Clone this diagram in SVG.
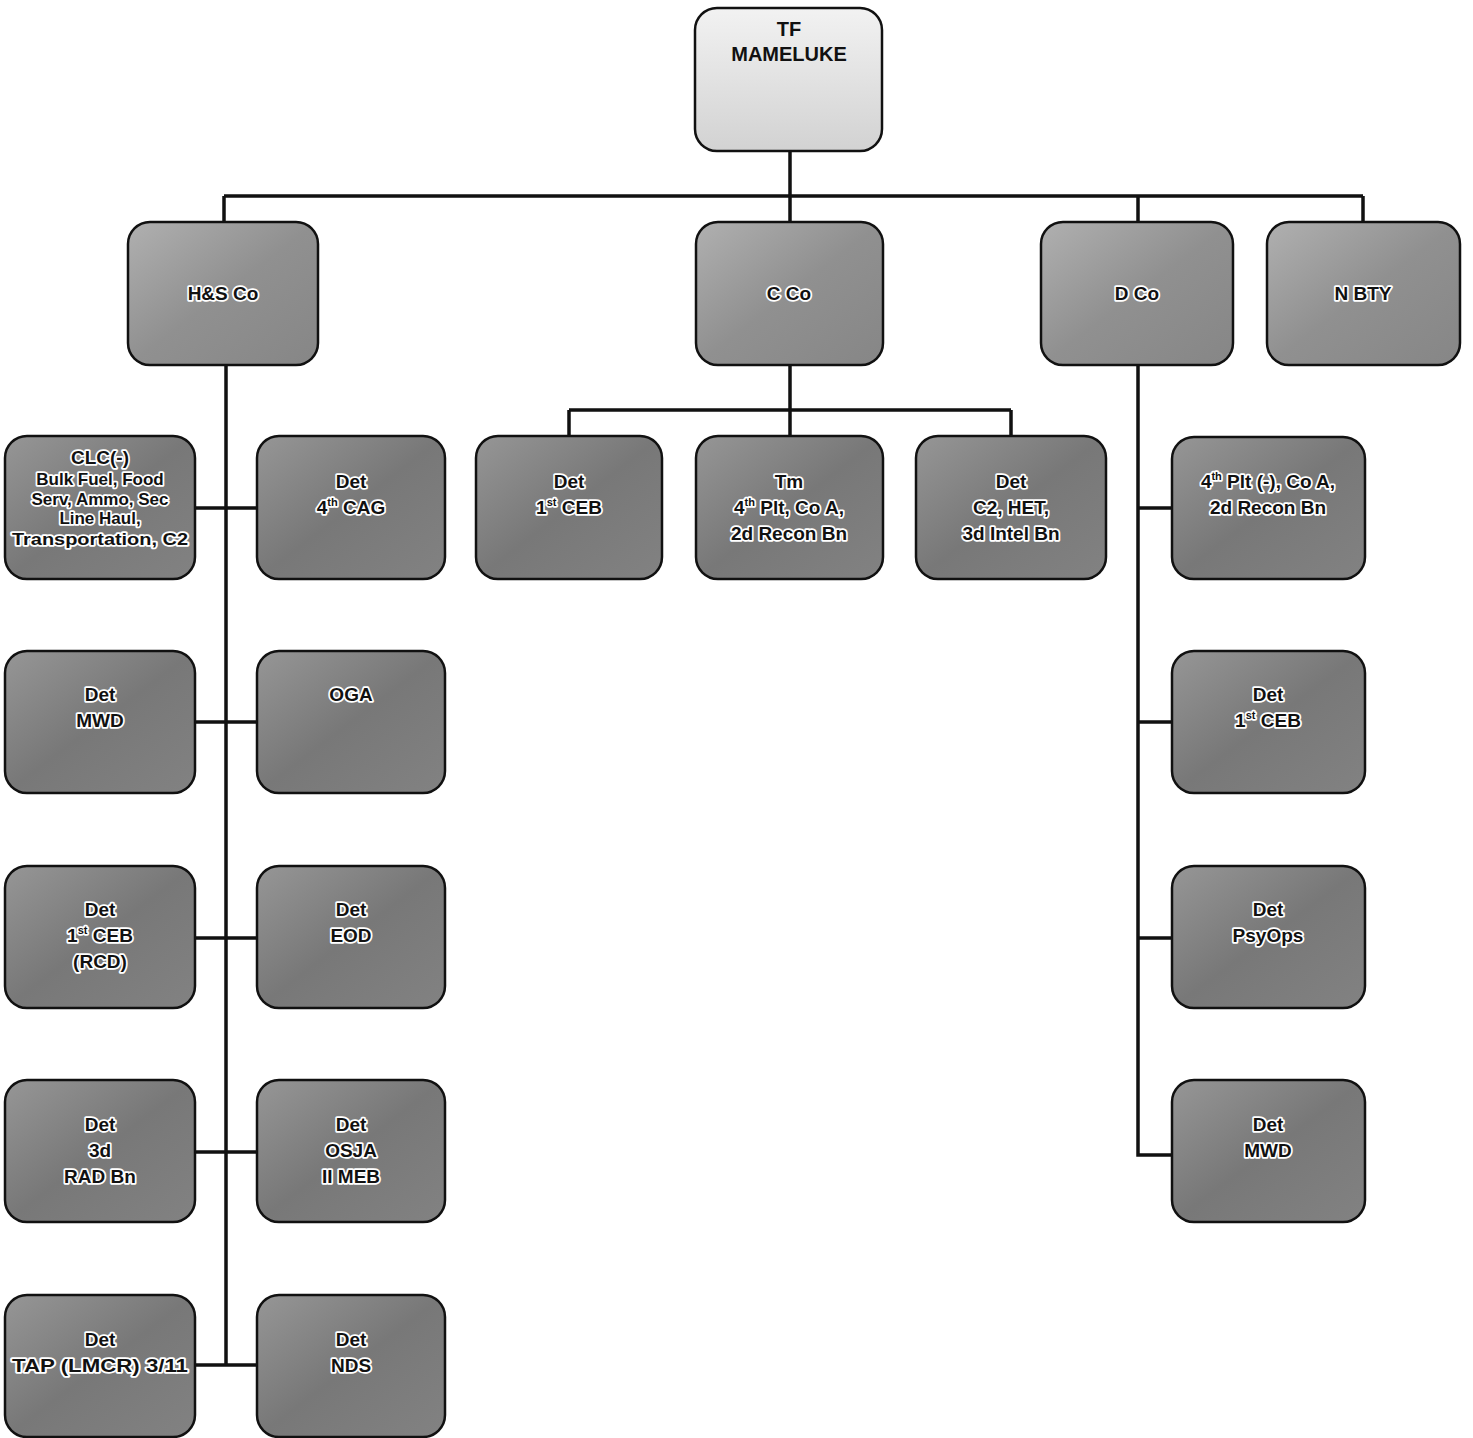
<svg xmlns="http://www.w3.org/2000/svg" width="1473" height="1438" viewBox="0 0 1473 1438">
<style>
.box{stroke:#111;stroke-width:2.5}
.top{fill:url(#gTop)}
.l2{fill:url(#gL2)}
.ch{fill:url(#gCh)}
.t{font-family:"Liberation Sans",Arial,sans-serif;font-weight:bold;font-size:19px;fill:#111;text-anchor:middle;stroke:#fff;stroke-width:3.5px;paint-order:stroke;stroke-linejoin:round}
.ts{font-size:17px}
.tt{font-family:"Liberation Sans",Arial,sans-serif;font-weight:bold;font-size:20px;fill:#111;text-anchor:middle}
.sup{font-size:11px}
.c{fill:none;stroke:#111;stroke-width:3.5}
</style>
<defs>
<linearGradient id="gTop" x1="0" y1="0" x2="0" y2="1"><stop offset="0" stop-color="#f2f2f2"/><stop offset="1" stop-color="#d2d2d2"/></linearGradient>
<linearGradient id="gL2" x1="0" y1="0" x2="1" y2="1"><stop offset="0" stop-color="#b0b0b0"/><stop offset="0.5" stop-color="#909090"/><stop offset="1" stop-color="#868686"/></linearGradient>
<linearGradient id="gCh" x1="0" y1="0" x2="1" y2="1"><stop offset="0" stop-color="#969696"/><stop offset="0.5" stop-color="#787878"/><stop offset="1" stop-color="#828282"/></linearGradient>
</defs>
<rect width="1473" height="1438" fill="#fff"/>
<g id="connectors">
<path class="c" d="M790 151V196M224 196H1363M224 196V222M790 196V222M1138 196V222M1363 196V222"/>
<path class="c" d="M226 365V1365M195 508H257M195 722H257M195 938H257M195 1152H257M195 1365H257"/>
<path class="c" d="M790 365V410M569 410H1011M569 410V436M790 410V436M1011 410V436"/>
<path class="c" d="M1138 365V1155H1172M1138 508H1172M1138 722H1172M1138 938H1172"/>
</g>
<g id="n-tf"><rect class="box top" x="695" y="8" width="187" height="143" rx="22"/><text class="tt" x="789" y="36">TF</text><text class="tt" x="789" y="61">MAMELUKE</text></g>
<g id="n-hs"><rect class="box l2" x="128" y="222" width="190" height="143" rx="22"/><text class="t" x="223" y="300">H&amp;S Co</text></g>
<g id="n-c"><rect class="box l2" x="696" y="222" width="187" height="143" rx="22"/><text class="t" x="789" y="300">C Co</text></g>
<g id="n-d"><rect class="box l2" x="1041" y="222" width="192" height="143" rx="22"/><text class="t" x="1137" y="300">D Co</text></g>
<g id="n-n"><rect class="box l2" x="1267" y="222" width="193" height="143" rx="22"/><text class="t" x="1363" y="300">N BTY</text></g>
<g id="n-clc"><rect class="box ch" x="5" y="436" width="190" height="143" rx="22"/><text class="t" x="100" y="464">CLC(-)</text><text class="t ts" x="100" y="485">Bulk Fuel, Food</text><text class="t ts" x="100" y="505">Serv, Ammo, Sec</text><text class="t ts" x="100" y="524">Line Haul,</text><text class="t ts" x="100" y="545" textLength="176" lengthAdjust="spacingAndGlyphs">Transportation, C2</text></g>
<g id="n-cag"><rect class="box ch" x="257" y="436" width="188" height="143" rx="22"/><text class="t" x="351" y="488">Det</text><text class="t" x="351" y="514">4<tspan class="sup" dy="-8">th</tspan><tspan dy="8"> CAG</tspan></text></g>
<g id="n-mwd1"><rect class="box ch" x="5" y="651" width="190" height="142" rx="22"/><text class="t" x="100" y="701">Det</text><text class="t" x="100" y="727">MWD</text></g>
<g id="n-oga"><rect class="box ch" x="257" y="651" width="188" height="142" rx="22"/><text class="t" x="351" y="701">OGA</text></g>
<g id="n-ceb1"><rect class="box ch" x="5" y="866" width="190" height="142" rx="22"/><text class="t" x="100" y="916">Det</text><text class="t" x="100" y="942">1<tspan class="sup" dy="-8">st</tspan><tspan dy="8"> CEB</tspan></text><text class="t" x="100" y="968">(RCD)</text></g>
<g id="n-eod"><rect class="box ch" x="257" y="866" width="188" height="142" rx="22"/><text class="t" x="351" y="916">Det</text><text class="t" x="351" y="942">EOD</text></g>
<g id="n-rad"><rect class="box ch" x="5" y="1080" width="190" height="142" rx="22"/><text class="t" x="100" y="1131">Det</text><text class="t" x="100" y="1157">3d</text><text class="t" x="100" y="1183">RAD Bn</text></g>
<g id="n-osja"><rect class="box ch" x="257" y="1080" width="188" height="142" rx="22"/><text class="t" x="351" y="1131">Det</text><text class="t" x="351" y="1157">OSJA</text><text class="t" x="351" y="1183">II MEB</text></g>
<g id="n-tap"><rect class="box ch" x="5" y="1295" width="190" height="142" rx="22"/><text class="t" x="100" y="1346">Det</text><text class="t" x="100" y="1372" textLength="176" lengthAdjust="spacingAndGlyphs">TAP (LMCR) 3/11</text></g>
<g id="n-nds"><rect class="box ch" x="257" y="1295" width="188" height="142" rx="22"/><text class="t" x="351" y="1346">Det</text><text class="t" x="351" y="1372">NDS</text></g>
<g id="n-ceb2"><rect class="box ch" x="476" y="436" width="186" height="143" rx="22"/><text class="t" x="569" y="488">Det</text><text class="t" x="569" y="514">1<tspan class="sup" dy="-8">st</tspan><tspan dy="8"> CEB</tspan></text></g>
<g id="n-tm"><rect class="box ch" x="696" y="436" width="187" height="143" rx="22"/><text class="t" x="789" y="488">Tm</text><text class="t" x="789" y="514">4<tspan class="sup" dy="-8">th</tspan><tspan dy="8"> Plt, Co A,</tspan></text><text class="t" x="789" y="540">2d Recon Bn</text></g>
<g id="n-het"><rect class="box ch" x="916" y="436" width="190" height="143" rx="22"/><text class="t" x="1011" y="488">Det</text><text class="t" x="1011" y="514">C2, HET,</text><text class="t" x="1011" y="540">3d Intel Bn</text></g>
<g id="n-plt"><rect class="box ch" x="1172" y="437" width="193" height="142" rx="22"/><text class="t" x="1268" y="488">4<tspan class="sup" dy="-8">th</tspan><tspan dy="8"> Plt (-), Co A,</tspan></text><text class="t" x="1268" y="514">2d Recon Bn</text></g>
<g id="n-ceb3"><rect class="box ch" x="1172" y="651" width="193" height="142" rx="22"/><text class="t" x="1268" y="701">Det</text><text class="t" x="1268" y="727">1<tspan class="sup" dy="-8">st</tspan><tspan dy="8"> CEB</tspan></text></g>
<g id="n-psy"><rect class="box ch" x="1172" y="866" width="193" height="142" rx="22"/><text class="t" x="1268" y="916">Det</text><text class="t" x="1268" y="942">PsyOps</text></g>
<g id="n-mwd2"><rect class="box ch" x="1172" y="1080" width="193" height="142" rx="22"/><text class="t" x="1268" y="1131">Det</text><text class="t" x="1268" y="1157">MWD</text></g>
</svg>
